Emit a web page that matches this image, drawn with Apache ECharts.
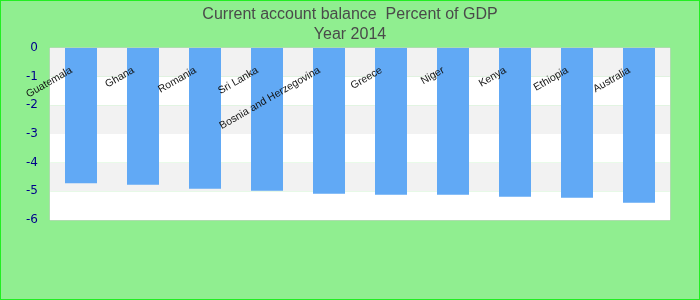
<!DOCTYPE html>
<html>
<head>
<meta charset="utf-8">
<script src="https://cdn.jsdelivr.net/npm/echarts@6/dist/echarts.min.js"></script>
<style>
html,body{margin:0;padding:0;}
#c{width:700px;height:300px;box-sizing:border-box;border:1px solid #22ee22;background:#90EE90;}
</style>
</head>
<body>
<div id="c"></div>
<script>
const categories = ["Guatemala","Ghana","Romania","Sri Lanka","Bosnia and Herzegovina","Greece","Niger","Kenya","Ethiopia","Australia"];
const values = [-4.72,-4.77,-4.91,-4.98,-5.08,-5.12,-5.12,-5.19,-5.22,-5.40];
const yTicks = {min:-6, max:0, interval:1};
const titleText = "Current account balance  Percent of GDP\nYear 2014";

const chart = echarts.init(document.getElementById('c'), null, {renderer:'canvas'});
chart.setOption({
  backgroundColor: '#90EE90',
  animation: false,
  title: {
    text: titleText,
    left: 'center',
    top: -1,
    textStyle: {fontFamily: 'Liberation Sans', fontSize: 16, fontWeight: 'normal', color: '#4a4a4a', lineHeight: 20}
  },
  grid: {left: 49, right: 29, top: 47, bottom: 79, show: true, backgroundColor: 'transparent', borderColor: '#cccccc', borderWidth: 1},
  xAxis: {
    type: 'category',
    data: categories,
    position: 'top',
    z: 5,
    axisLine: {show: false},
    axisTick: {show: false},
    axisLabel: {inside: true, rotate: 30, margin: 16, padding: [0, 11, 0, 0], fontFamily: 'Liberation Sans', fontSize: 10.5, color: '#111', interval: 0}
  },
  yAxis: {
    type: 'value',
    min: yTicks.min, max: yTicks.max, interval: yTicks.interval,
    axisLine: {show: false},
    axisTick: {show: false},
    splitLine: {show: false},
    splitArea: {show: true, areaStyle: {color: ['#ffffff', '#f2f2f2']}},
    axisLabel: {fontFamily: 'DejaVu Sans', fontSize: 12, color: '#00008b', margin: 12}
  },
  series: [{
    type: 'bar',
    data: values,
    barWidth: 32,
    itemStyle: {color: '#61a9f5'}
  }]
});
</script>
</body>
</html>
